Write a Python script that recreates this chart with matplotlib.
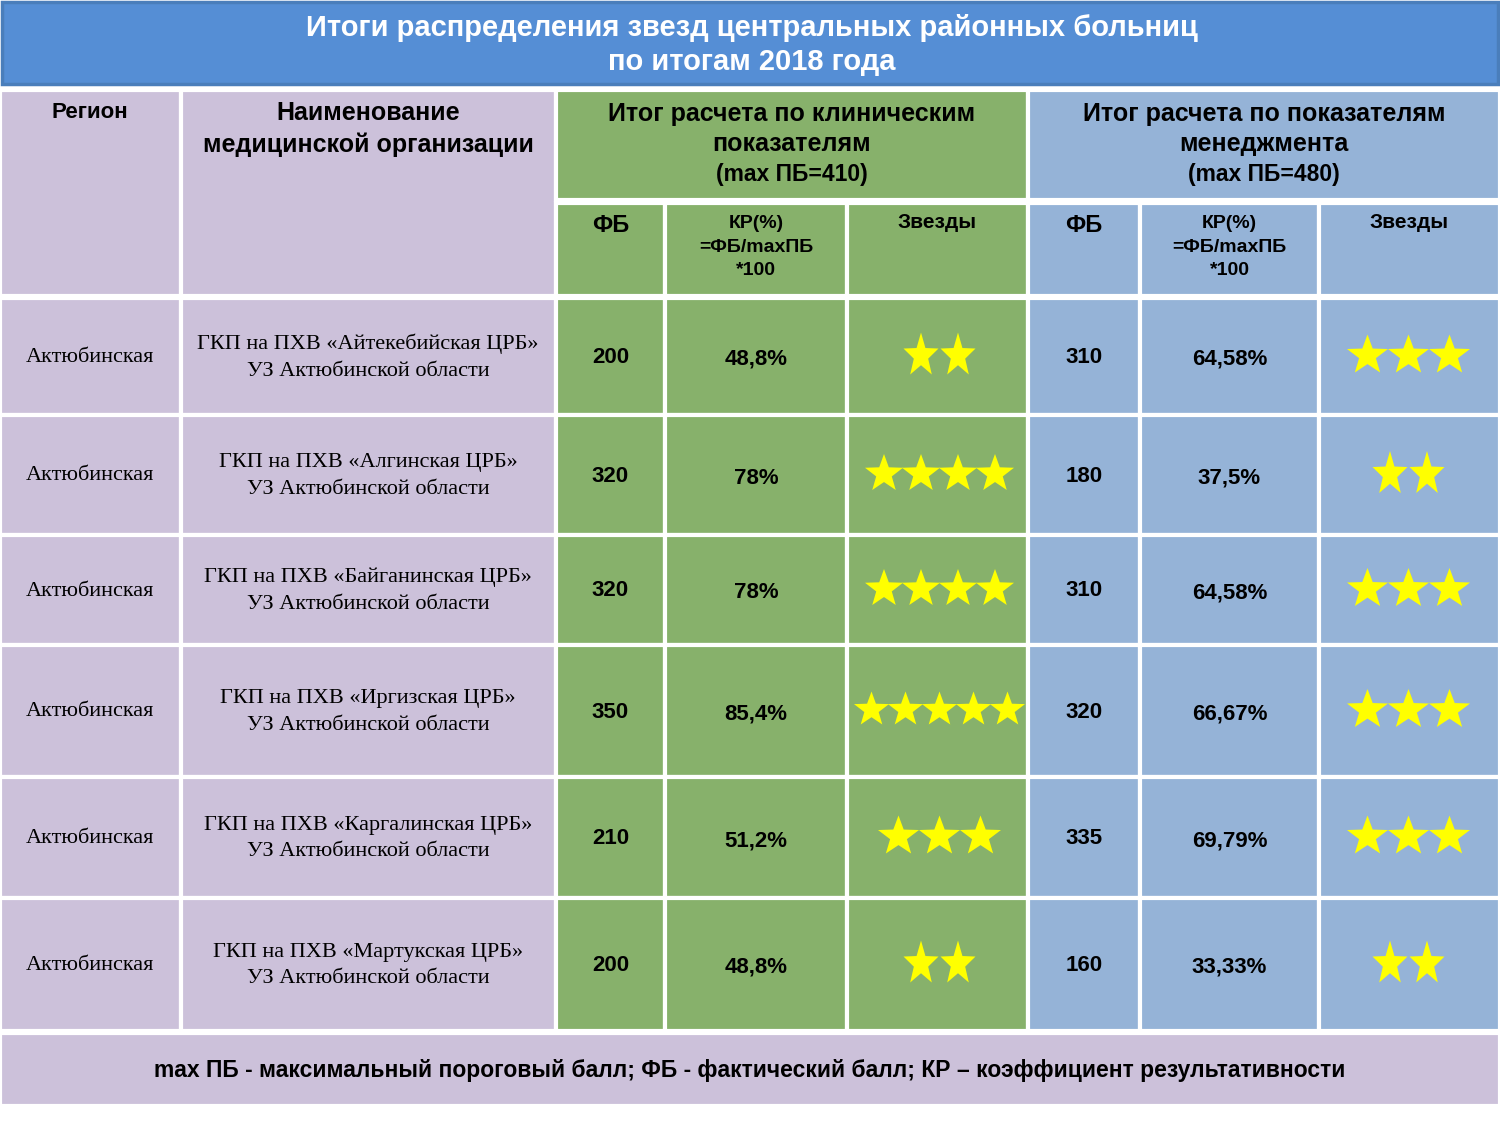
# Table of central district hospital star ratings, 2018
import numpy as np
import matplotlib.pyplot as plt
from matplotlib.patches import Rectangle, Polygon

# --- data ---
regions = ['Актюбинская', 'Актюбинская', 'Актюбинская',
           'Актюбинская', 'Актюбинская', 'Актюбинская']
orgs = ['Айтекебийская', 'Алгинская', 'Байганинская',
        'Иргизская', 'Каргалинская', 'Мартукская']
clin_fb = [200, 320, 320, 350, 210, 200]
clin_kr = ['48,8%', '78%', '78%', '85,4%', '51,2%', '48,8%']
clin_stars = [2, 4, 4, 5, 3, 2]
mgmt_fb = [310, 180, 310, 320, 335, 160]
mgmt_kr = ['64,58%', '37,5%', '64,58%', '66,67%', '69,79%', '33,33%']
mgmt_stars = [3, 2, 3, 3, 3, 2]

title = 'Итоги распределения звезд центральных районных больниц\nпо итогам 2018 года'
footer = 'max ПБ - максимальный пороговый балл; ФБ - фактический балл; КР – коэффициент результативности'

# colours
LAV = '#ccc1da'
GRN = '#87b16b'
BLU = '#95b3d7'
TOP = '#558ed5'
STAR = '#ffff00'

SANS = 'Liberation Sans'
SERIF = 'Liberation Serif'

# layout in pixels
cols = [0, 181, 556, 665, 847, 1028, 1140, 1319, 1500]
rows = [298, 415, 535, 645, 777, 898, 1031]
# star (spacing, width, height) in px depending on how many stars share the cell
star_geom = {2: (37, 35, 42), 3: (41, 41, 38), 4: (37, 38, 36), 5: (34, 35, 33)}

fig = plt.figure(figsize=(15, 11.25), dpi=100)
ax = fig.add_axes([0, 0, 1, 1])
ax.set_xlim(0, 1500)
ax.set_ylim(1125, 0)
ax.axis('off')


def cell(x0, x1, y0, y1, color, lw=3):
    ax.add_patch(Rectangle((x0, y0), x1 - x0, y1 - y0, facecolor=color,
                           edgecolor='white', linewidth=lw))


def txt(x, y, s, size=16, family=SANS, weight='bold', color='black', ls=1.35):
    ax.text(x, y, s, ha='center', va='center', fontsize=size,
            family=family, fontweight=weight, color=color, linespacing=ls)


# unit five-point star, bbox normalised to [-0.5, 0.5]
ang = np.pi / 2 + np.arange(10) * np.pi / 5
rad = np.where(np.arange(10) % 2 == 0, 1.0, 0.41)
sx, sy = rad * np.cos(ang), -rad * np.sin(ang)   # y flipped (axis inverted)
sx = (sx - (sx.max() + sx.min()) / 2) / (sx.max() - sx.min())
sy = (sy - (sy.max() + sy.min()) / 2) / (sy.max() - sy.min())


def stars(xc, y, n):
    step, w, h = star_geom[n]
    for i in range(n):
        cx = xc + (i - (n - 1) / 2) * step
        ax.add_patch(Polygon(np.column_stack([cx + sx * w, y + sy * h]),
                             closed=True, facecolor=STAR, edgecolor='none'))


# title bar
ax.add_patch(Rectangle((2, 2), 1496, 82, facecolor=TOP, edgecolor='#4a7ebb',
                       linewidth=2.5))
txt(752, 45, title, size=21, color='white', ls=1.3)

# header
cell(0, cols[1], 90, 296, LAV)
cell(cols[1], cols[2], 90, 296, LAV)
cell(cols[2], cols[5], 90, 200, GRN)
cell(cols[5], cols[8], 90, 200, BLU)
txt(90, 113, 'Регион', size=16)
txt(368, 129, 'Наименование\nмедицинской организации', size=18)
txt(792, 129, 'Итог расчета по клиническим\nпоказателям', size=18)
txt(792, 175, '(max ПБ=410)', size=16.5)
txt(1264, 129, 'Итог расчета по показателям\nменеджмента', size=18)
txt(1264, 175, '(max ПБ=480)', size=16.5)

sub_colors = [GRN, GRN, GRN, BLU, BLU, BLU]
for k in range(6):
    x0, x1 = cols[k + 2], cols[k + 3]
    cell(x0, x1, 203, 296, sub_colors[k])
    xc = (x0 + x1) / 2
    if k % 3 == 0:
        txt(xc, 225, 'ФБ', size=17)
    elif k % 3 == 1:
        txt(xc, 247, 'КР(%)\n=ФБ/maxПБ\n*100', size=14, ls=1.5)
    else:
        txt(xc, 223, 'Звезды', size=15)

# body rows
for i in range(len(orgs)):
    y0, y1 = rows[i], rows[i + 1]
    yc = (y0 + y1) / 2
    for k in range(8):
        color = LAV if k < 2 else (GRN if k < 5 else BLU)
        cell(cols[k], cols[k + 1], y0, y1, color)
    txt(90, yc + 1, regions[i], size=16, family=SERIF, weight='normal')
    txt(368, yc + 1, 'ГКП на ПХВ «%s ЦРБ»\nУЗ Актюбинской области' % orgs[i],
        size=16, family=SERIF, weight='normal', ls=1.55)
    txt((cols[2] + cols[3]) / 2, yc + 1, str(clin_fb[i]), size=16)
    txt((cols[3] + cols[4]) / 2, yc + 3, clin_kr[i], size=16)
    stars((cols[4] + cols[5]) / 2 + 2, yc - 3, clin_stars[i])
    txt((cols[5] + cols[6]) / 2, yc + 1, str(mgmt_fb[i]), size=16)
    txt((cols[6] + cols[7]) / 2, yc + 3, mgmt_kr[i], size=16)
    stars((cols[7] + cols[8]) / 2 - 1, yc - 3, mgmt_stars[i])

# footer
cell(0, 1500, 1033, 1106, LAV)
txt(750, 1070, footer, size=16.5)

fig.savefig('out.png', dpi=100)
